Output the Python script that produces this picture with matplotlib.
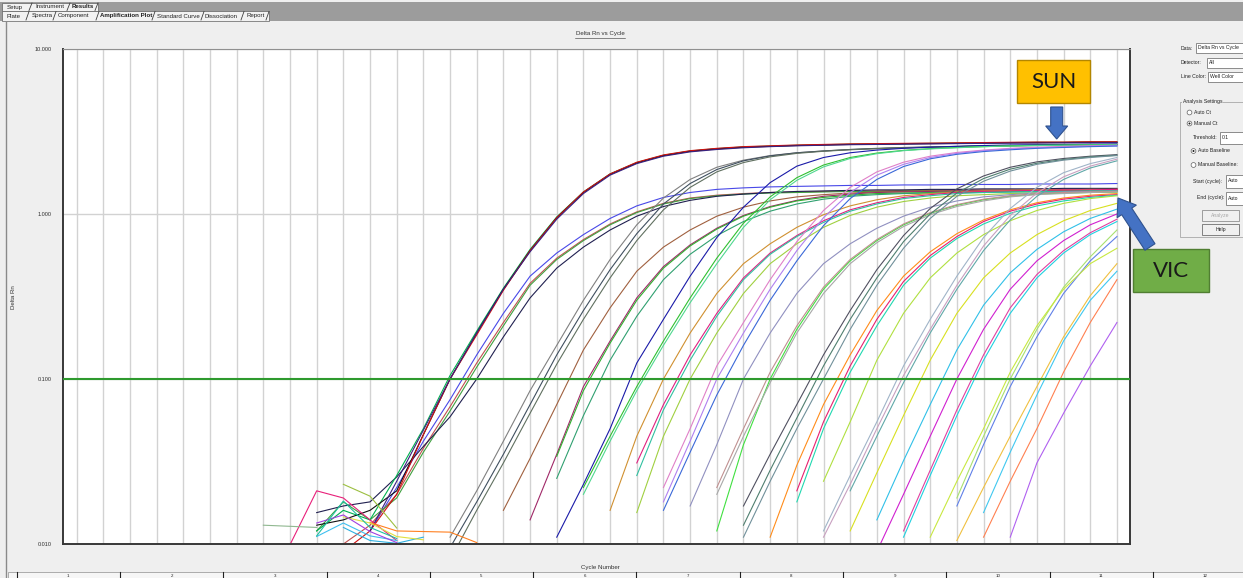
import numpy as np
import matplotlib.pyplot as plt
from matplotlib.patches import Rectangle, FancyArrow, Circle
from matplotlib.ticker import NullLocator

plt.rcParams['font.family'] = ['Liberation Sans', 'DejaVu Sans']

# %% DATA (Delta Rn per cycle)

# SUN detector wells: first plotted cycle, Delta Rn values, well colour
sun_start = [10, 10, 11, 12, 15, 15, 15, 19, 20, 20, 23, 23, 23, 26, 26, 26, 29, 29, 30]
sun_rn = [
    [0.012, 0.016, 0.014, 0.026, 0.05, 0.105, 0.195, 0.355, 0.61, 0.96, 1.36, 1.75, 2.05, 2.27, 2.41, 2.49,
     2.55, 2.58, 2.61, 2.63, 2.65, 2.66, 2.67, 2.68, 2.69, 2.7, 2.71, 2.72, 2.72, 2.73, 2.73],
    [0.013, 0.014, 0.016, 0.021, 0.046, 0.1, 0.19, 0.35, 0.6, 0.95, 1.35, 1.74, 2.04, 2.26, 2.4, 2.48,
     2.54, 2.57, 2.6, 2.62, 2.64, 2.65, 2.66, 2.67, 2.68, 2.69, 2.7, 2.71, 2.71, 2.72, 2.72],
    [0.009, 0.012, 0.02, 0.046, 0.1, 0.185, 0.345, 0.6, 0.95, 1.36, 1.75, 2.06, 2.28, 2.42, 2.5, 2.56,
     2.59, 2.62, 2.64, 2.66, 2.67, 2.68, 2.69, 2.7, 2.71, 2.72, 2.73, 2.73, 2.74, 2.74],
    [0.012, 0.024, 0.049, 0.1, 0.19, 0.35, 0.59, 0.93, 1.33, 1.72, 2.02, 2.24, 2.38, 2.46, 2.52, 2.56,
     2.59, 2.61, 2.63, 2.64, 2.65, 2.66, 2.67, 2.68, 2.69, 2.69, 2.7, 2.7, 2.71],
    [0.011, 0.021, 0.042, 0.085, 0.16, 0.3, 0.53, 0.86, 1.25, 1.62, 1.92, 2.12, 2.26, 2.35, 2.41, 2.46,
     2.49, 2.52, 2.54, 2.56, 2.58, 2.59, 2.6, 2.61, 2.62, 2.63],
    [0.0095, 0.018, 0.035, 0.07, 0.14, 0.26, 0.46, 0.76, 1.15, 1.53, 1.86, 2.1, 2.25, 2.35, 2.41, 2.46,
     2.5, 2.53, 2.55, 2.57, 2.59, 2.6, 2.61, 2.62, 2.63, 2.64],
    [0.008, 0.016, 0.031, 0.062, 0.123, 0.23, 0.41, 0.69, 1.06, 1.45, 1.8, 2.05, 2.22, 2.33, 2.4, 2.45,
     2.49, 2.52, 2.54, 2.56, 2.58, 2.59, 2.6, 2.61, 2.62, 2.62],
    [0.011, 0.023, 0.05, 0.125, 0.23, 0.42, 0.72, 1.1, 1.55, 1.95, 2.2, 2.35, 2.44, 2.5, 2.54, 2.57,
     2.6, 2.62, 2.63, 2.64, 2.65, 2.66],
    [0.022, 0.045, 0.09, 0.17, 0.31, 0.54, 0.88, 1.27, 1.66, 1.98, 2.2, 2.34, 2.43, 2.49, 2.53, 2.56,
     2.59, 2.61, 2.62, 2.63, 2.64],
    [0.02, 0.042, 0.085, 0.16, 0.29, 0.5, 0.83, 1.22, 1.6, 1.93, 2.17, 2.32, 2.42, 2.48, 2.52, 2.56,
     2.58, 2.6, 2.61, 2.62, 2.63],
    [0.022, 0.05, 0.12, 0.22, 0.4, 0.68, 1.05, 1.45, 1.8, 2.06, 2.24, 2.36, 2.44, 2.5, 2.54, 2.57, 2.59, 2.61],
    [0.018, 0.042, 0.1, 0.19, 0.35, 0.6, 0.95, 1.35, 1.72, 2.0, 2.2, 2.33, 2.42, 2.48, 2.52, 2.55, 2.58, 2.6],
    [0.016, 0.036, 0.08, 0.16, 0.3, 0.52, 0.85, 1.24, 1.62, 1.94, 2.16, 2.3, 2.39, 2.45, 2.5, 2.53, 2.56, 2.58],
    [0.017, 0.035, 0.07, 0.14, 0.26, 0.46, 0.74, 1.08, 1.42, 1.7, 1.92, 2.07, 2.17, 2.24, 2.29],
    [0.013, 0.028, 0.058, 0.12, 0.23, 0.41, 0.68, 1.0, 1.34, 1.64, 1.87, 2.03, 2.14, 2.22, 2.27],
    [0.011, 0.024, 0.05, 0.1, 0.2, 0.37, 0.62, 0.94, 1.28, 1.58, 1.82, 2.0, 2.12, 2.2, 2.26],
    [0.012, 0.026, 0.055, 0.12, 0.23, 0.42, 0.72, 1.08, 1.45, 1.78, 2.02, 2.2],
    [0.011, 0.023, 0.05, 0.105, 0.2, 0.37, 0.64, 0.98, 1.34, 1.68, 1.95, 2.15],
    [0.021, 0.045, 0.095, 0.19, 0.35, 0.6, 0.92, 1.28, 1.62, 1.9, 2.1],
]
sun_colors = ['#00b050', '#101010', '#d01010', '#3a2080', '#808080', '#3f4f5f', '#607060',
              '#1a1aa8', '#30c030', '#50d890', '#e080c8', '#b080f0', '#3a68d8',
              '#505060', '#4f7f6f', '#70909a', '#a0b4c8', '#c8a0c0', '#60a8a8']

# VIC detector wells
vic_start = [12, 11, 10, 10, 17, 18, 19, 19, 21, 22, 22, 22, 24, 25, 25, 25,
             27, 28, 28, 29, 30, 31, 31, 32, 32, 34, 34, 34, 35, 35, 36, 33]
vic_rn = [
    [0.012, 0.022, 0.042, 0.075, 0.14, 0.25, 0.42, 0.58, 0.75, 0.94, 1.12, 1.26, 1.35, 1.41, 1.44, 1.46,
     1.47, 1.48, 1.49, 1.49, 1.5, 1.5, 1.51, 1.51, 1.51, 1.52, 1.52, 1.52, 1.53],
    [0.01, 0.013, 0.02, 0.038, 0.068, 0.125, 0.22, 0.38, 0.54, 0.7, 0.87, 1.03, 1.16, 1.25, 1.3, 1.33,
     1.35, 1.36, 1.37, 1.38, 1.38, 1.39, 1.39, 1.4, 1.4, 1.4, 1.41, 1.41, 1.41, 1.42],
    [0.012, 0.018, 0.014, 0.019, 0.036, 0.064, 0.118, 0.21, 0.37, 0.53, 0.69, 0.86, 1.02, 1.15, 1.24, 1.29,
     1.32, 1.34, 1.35, 1.36, 1.37, 1.37, 1.38, 1.38, 1.38, 1.39, 1.39, 1.39, 1.4, 1.4, 1.4],
    [0.0155, 0.017, 0.018, 0.0255, 0.039, 0.059, 0.1, 0.18, 0.31, 0.47, 0.63, 0.8, 0.97, 1.11, 1.21, 1.28,
     1.32, 1.35, 1.37, 1.38, 1.39, 1.4, 1.4, 1.41, 1.41, 1.42, 1.42, 1.42, 1.43, 1.43, 1.43],
    [0.016, 0.033, 0.07, 0.15, 0.27, 0.45, 0.63, 0.8, 0.97, 1.1, 1.2, 1.27, 1.31, 1.34, 1.36, 1.37,
     1.38, 1.38, 1.39, 1.39, 1.4, 1.4, 1.4, 1.41],
    [0.014, 0.035, 0.09, 0.17, 0.31, 0.48, 0.65, 0.82, 0.98, 1.11, 1.21, 1.28, 1.32, 1.35, 1.36, 1.37,
     1.38, 1.38, 1.39, 1.39, 1.39, 1.4, 1.4],
    [0.034, 0.085, 0.165, 0.3, 0.47, 0.64, 0.81, 0.97, 1.1, 1.2, 1.26, 1.3, 1.33, 1.34, 1.35, 1.36,
     1.36, 1.37, 1.37, 1.37, 1.38, 1.38],
    [0.025, 0.06, 0.13, 0.24, 0.4, 0.57, 0.74, 0.9, 1.04, 1.15, 1.23, 1.28, 1.31, 1.33, 1.34, 1.35,
     1.35, 1.36, 1.36, 1.36, 1.37, 1.37],
    [0.016, 0.045, 0.1, 0.19, 0.33, 0.5, 0.66, 0.83, 0.99, 1.12, 1.22, 1.29, 1.33, 1.36, 1.38, 1.39,
     1.4, 1.4, 1.41, 1.41],
    [0.031, 0.07, 0.14, 0.25, 0.41, 0.58, 0.74, 0.91, 1.06, 1.17, 1.26, 1.31, 1.35, 1.37, 1.38, 1.39,
     1.4, 1.4, 1.41],
    [0.026, 0.065, 0.13, 0.24, 0.4, 0.57, 0.73, 0.89, 1.04, 1.15, 1.24, 1.29, 1.33, 1.35, 1.36, 1.37,
     1.37, 1.38, 1.38],
    [0.0155, 0.045, 0.1, 0.19, 0.33, 0.5, 0.66, 0.83, 0.98, 1.1, 1.19, 1.25, 1.29, 1.31, 1.33, 1.34,
     1.35, 1.35, 1.36],
    [0.017, 0.04, 0.1, 0.19, 0.33, 0.5, 0.66, 0.82, 0.97, 1.1, 1.2, 1.27, 1.31, 1.34, 1.36, 1.37, 1.38],
    [0.012, 0.04, 0.1, 0.2, 0.35, 0.52, 0.69, 0.86, 1.01, 1.13, 1.22, 1.28, 1.32, 1.34, 1.35, 1.36],
    [0.022, 0.05, 0.11, 0.21, 0.36, 0.53, 0.7, 0.87, 1.02, 1.14, 1.23, 1.29, 1.33, 1.35, 1.36, 1.37],
    [0.02, 0.045, 0.095, 0.19, 0.33, 0.5, 0.67, 0.84, 0.99, 1.11, 1.2, 1.27, 1.31, 1.33, 1.35, 1.36],
    [0.011, 0.03, 0.07, 0.14, 0.26, 0.42, 0.59, 0.76, 0.92, 1.06, 1.17, 1.25, 1.3, 1.33],
    [0.021, 0.055, 0.12, 0.23, 0.39, 0.56, 0.73, 0.9, 1.04, 1.15, 1.23, 1.28, 1.31],
    [0.018, 0.05, 0.11, 0.21, 0.37, 0.54, 0.71, 0.87, 1.01, 1.12, 1.2, 1.26, 1.3],
    [0.024, 0.055, 0.13, 0.25, 0.41, 0.58, 0.75, 0.91, 1.05, 1.16, 1.24, 1.29],
    [0.012, 0.027, 0.06, 0.13, 0.25, 0.41, 0.58, 0.75, 0.91, 1.05, 1.16],
    [0.014, 0.032, 0.07, 0.15, 0.28, 0.44, 0.61, 0.78, 0.94, 1.07],
    [0.009, 0.02, 0.045, 0.1, 0.2, 0.35, 0.52, 0.69, 0.86, 1.0],
    [0.011, 0.026, 0.06, 0.13, 0.25, 0.41, 0.58, 0.75, 0.9],
    [0.012, 0.028, 0.065, 0.14, 0.27, 0.43, 0.6, 0.77, 0.93],
    [0.019, 0.045, 0.1, 0.2, 0.36, 0.55, 0.8],
    [0.017, 0.04, 0.09, 0.18, 0.33, 0.52, 0.73],
    [0.0105, 0.022, 0.045, 0.09, 0.18, 0.32, 0.5],
    [0.0155, 0.036, 0.08, 0.17, 0.3, 0.45],
    [0.011, 0.024, 0.05, 0.11, 0.22, 0.4],
    [0.011, 0.031, 0.062, 0.12, 0.22],
    [0.011, 0.024, 0.05, 0.11, 0.21, 0.35, 0.5, 0.62],
]
vic_colors = ['#4848e8', '#c05050', '#40a040', '#202050', '#a0603f', '#a02868', '#30b030', '#30a070',
              '#d09030', '#e02080', '#30c0a0', '#a0d040', '#9090c0', '#40e040', '#c09090', '#a8a8a8',
              '#ff8c1a', '#e8206f', '#20d8b0', '#b0e040', '#d8e020', '#30c0e8', '#d020d0', '#20d0e0',
              '#e040a0', '#a8e070', '#6080e8', '#f0c040', '#40c8f0', '#ff8050', '#b060f0', '#c8e840']

# baseline noise fragments near the bottom
noise_start = [9, 8, 11, 12, 11, 10, 11, 10, 10]
noise_rn = [
    [0.0099, 0.021, 0.019, 0.014, 0.0105],
    [0.013, 0.0128, 0.0126],
    [0.023, 0.0195, 0.0125],
    [0.0135, 0.012, 0.0119, 0.0118, 0.0102],
    [0.0126, 0.0105, 0.0101, 0.011],
    [0.0111, 0.0134, 0.0112, 0.0105],
    [0.0146, 0.0134, 0.0111, 0.0106],
    [0.0134, 0.015, 0.0119, 0.0102],
    [0.0112, 0.0182, 0.0126, 0.0108],
]
noise_colors = ['#e8207a', '#90b890', '#9cbf40', '#ff8020', '#30b0e0', '#40c0f0', '#e0e040', '#a040e0', '#20c0a0']

threshold = 0.1
cycles = list(range(1, 41))
y_ticks = [0.01, 0.1, 1, 10]
y_labels = ['0.010', '0.100', '1.000', '10.000']
tabs_top = ['Setup', 'Instrument', 'Results']
tabs_bottom = ['Plate', 'Spectra', 'Component', 'Amplification Plot', 'Standard Curve', 'Dissociation', 'Report']
well_cols = [str(i) for i in range(1, 13)]

# %% FIGURE + UI BACKGROUND

W, H = 1243, 578
fig = plt.figure(figsize=(W / 100, H / 100), dpi=100)
fig.patch.set_facecolor('#efefef')

ui = fig.add_axes([0, 0, 1, 1], zorder=0)
ui.set_xlim(0, W)
ui.set_ylim(H, 0)
ui.axis('off')

small = 4.4
tiny = 3.7

# tab strip
ui.add_patch(Rectangle((0, 2), W, 19, fc='#9c9c9c', ec='none'))
ui.add_patch(Rectangle((2, 2.5), 96, 8.5, fc='#f2f2f2', ec='#606060', lw=0.5))
ui.add_patch(Rectangle((2, 11), 267, 9.5, fc='#f2f2f2', ec='#606060', lw=0.5))
top_x = [7, 35, 72]
top_sep = [31, 69, 97]
for x, s in zip(top_x, tabs_top):
    ui.text(x, 7, s, fontsize=small, va='center', color='#202020',
            fontweight='bold' if s == 'Results' else 'normal')
for x in top_sep:
    ui.plot([x - 2, x + 1], [10.5, 3], color='#404040', lw=0.6)
bot_x = [7, 32, 58, 100, 157, 205, 247]
bot_sep = [28, 55, 98, 154, 203, 243, 268]
for x, s in zip(bot_x, tabs_bottom):
    ui.text(x, 16, s, fontsize=small, va='center', color='#202020',
            fontweight='bold' if s == 'Amplification Plot' else 'normal')
for x in bot_sep:
    ui.plot([x - 2, x + 1], [20, 11.5], color='#404040', lw=0.6)

# left border of the panel
ui.plot([6, 6], [22, H], color='#8a8a8a', lw=1)

# title, axis labels
ui.text(600, 34, 'Delta Rn vs Cycle', fontsize=small, ha='center', va='center', color='#303030')
ui.plot([575, 625], [37.5, 37.5], color='#303030', lw=0.4)
ui.text(14, 297, 'Delta Rn', fontsize=small, rotation=90, ha='center', va='center', color='#303030')
ui.text(600, 567, 'Cycle Number', fontsize=small, ha='center', va='center', color='#303030')

# well column header row at the bottom
ui.add_patch(Rectangle((8, 571.5), W, 8, fc='#f6f6f6', ec='#909090', lw=0.5))
for i, s in enumerate(well_cols):
    ui.plot([16.7 + 103.3 * i] * 2, [571.5, H], color='#202020', lw=0.8)
    ui.text(68.3 + 103.3 * i, 576, s, fontsize=3.2, ha='center', va='center', color='#202020')

# right-hand settings panel
def box(x, y, w, h, txt=None):
    ui.add_patch(Rectangle((x, y), w, h, fc='white', ec='#7a7a7a', lw=0.6))
    if txt:
        ui.text(x + 2, y + h / 2, txt, fontsize=tiny, va='center', color='#202020')

def radio(x, y, on, txt):
    ui.add_patch(Circle((x, y), 2.4, fc='white', ec='#606060', lw=0.5))
    if on:
        ui.add_patch(Circle((x, y), 1.0, fc='#202020', ec='none'))
    ui.text(x + 5, y, txt, fontsize=tiny, va='center', color='#202020')

ui.text(1181, 48, 'Data:', fontsize=tiny, va='center', color='#202020')
box(1196, 43, 50, 10, 'Delta Rn vs Cycle')
ui.text(1181, 62.5, 'Detector:', fontsize=tiny, va='center', color='#202020')
box(1207, 57.5, 40, 10, 'All')
ui.text(1181, 76.5, 'Line Color:', fontsize=tiny, va='center', color='#202020')
box(1208, 71.5, 40, 10, 'Well Color')

ui.add_patch(Rectangle((1180, 102), 70, 135, fc='none', ec='#a8a8a8', lw=0.6))
ui.text(1183, 102, 'Analysis Settings', fontsize=tiny, va='center', color='#202020',
        bbox=dict(fc='#efefef', ec='none', pad=0.4))
radio(1189.5, 112.5, False, 'Auto Ct')
radio(1189.5, 123.5, True, 'Manual Ct')
ui.text(1193, 137.5, 'Threshold:', fontsize=tiny, va='center', color='#202020')
box(1220, 131.5, 25, 12, '0.1')
radio(1193.5, 151, True, 'Auto Baseline')
radio(1193.5, 165, False, 'Manual Baseline:')
ui.text(1193, 181, 'Start (cycle):', fontsize=tiny, va='center', color='#202020')
box(1226, 174.5, 20, 13, 'Auto')
ui.text(1197, 198, 'End (cycle):', fontsize=tiny, va='center', color='#202020')
box(1226, 191.5, 20, 13, 'Auto')
ui.add_patch(Rectangle((1202, 209.5), 37, 11, fc='#f0f0f0', ec='#909090', lw=0.6))
ui.text(1220.5, 215, 'Analyze', fontsize=tiny, ha='center', va='center', color='#a8a8a8')
ui.add_patch(Rectangle((1202, 223.5), 37, 11, fc='#f0f0f0', ec='#707070', lw=0.6))
ui.text(1220.5, 229, 'Help', fontsize=tiny, ha='center', va='center', color='#202020')

# %% PLOT: Delta Rn vs Cycle

ax = fig.add_axes([63 / W, 1 - 544 / H, (1130 - 63) / W, (544 - 49) / H], zorder=1)
ax.set_facecolor('white')
ax.set_yscale('log')
ax.set_xlim(0.49, 40.49)
ax.set_ylim(0.01, 10)

ax.set_xticks(cycles)
ax.set_xticklabels([])
ax.set_yticks(y_ticks)
ax.set_yticklabels(y_labels, fontsize=4, color='#303030')
ax.yaxis.set_minor_locator(NullLocator())
ax.tick_params(axis='both', length=0)
ax.tick_params(axis='y', pad=8)
ax.grid(True, color='#d2d2d2', lw=1)
ax.set_axisbelow(True)
for side in ['left', 'bottom', 'right']:
    ax.spines[side].set_color('#383838')
    ax.spines[side].set_linewidth(1.4)
ax.spines['top'].set_color('#909090')
ax.spines['top'].set_linewidth(0.8)

for s, vals, c in zip(vic_start, vic_rn, vic_colors):
    ax.plot(np.arange(s, s + len(vals)), vals, color=c, lw=0.8)
for s, vals, c in zip(sun_start, sun_rn, sun_colors):
    ax.plot(np.arange(s, s + len(vals)), vals, color=c, lw=0.8)
for s, vals, c in zip(noise_start, noise_rn, noise_colors):
    ax.plot(np.arange(s, s + len(vals)), vals, color=c, lw=0.8)

ax.axhline(threshold, color='#2e9a2e', lw=1.5, zorder=4)

# %% CALLOUTS (SUN / VIC)

over = fig.add_axes([0, 0, 1, 1], zorder=3)
over.set_xlim(0, W)
over.set_ylim(H, 0)
over.axis('off')

over.add_patch(Rectangle((1017, 60), 73, 43, fc='#ffc000', ec='#b38600', lw=1))
over.text(1053.5, 82, 'SUN', fontsize=16, family='Lato', ha='center', va='center', color='#1a1a1a')
over.add_patch(FancyArrow(1056.7, 107, 0, 32, width=12, head_width=22, head_length=13,
                          length_includes_head=True, fc='#4472c4', ec='#2f528f', lw=0.8))

over.add_patch(Rectangle((1133, 249), 76, 43, fc='#70ad47', ec='#507e32', lw=1))
over.text(1171, 271, 'VIC', fontsize=16, family='Lato', ha='center', va='center', color='#1a1a1a')
over.add_patch(FancyArrow(1150, 247, -32, -49, width=12, head_width=23, head_length=16,
                          length_includes_head=True, fc='#4472c4', ec='#2f528f', lw=0.8))

fig.savefig('out.png', dpi=100, facecolor=fig.get_facecolor())
